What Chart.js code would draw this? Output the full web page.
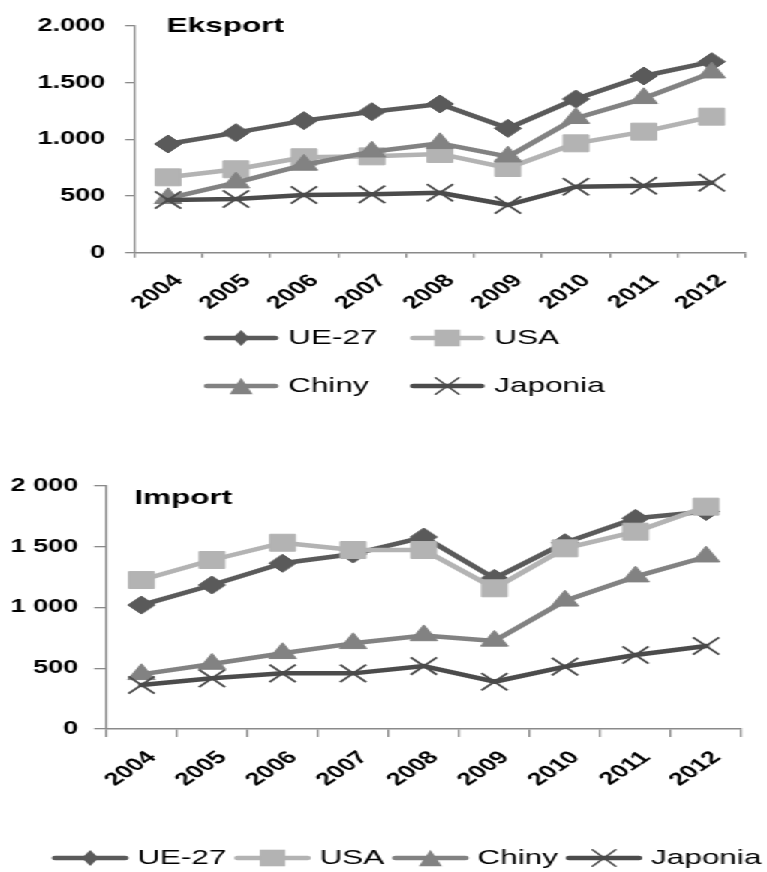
<!DOCTYPE html>
<html>
<head>
<meta charset="utf-8">
<script src="https://cdn.jsdelivr.net/npm/chart.js@4.4.1/dist/chart.umd.min.js"></script>
<style>
  html, body { margin: 0; padding: 0; background: #fff; width: 767px; height: 872px; overflow: hidden; }
  /* both panels are laid out on a 511px-wide stage and widened to the page width */
  #stage { position: absolute; left: 0; top: 0; width: 511px; height: 880px; transform: scaleX(1.50098); transform-origin: 0 0; }
  #eksport { position: absolute; left: 0; top: 0; }
  #import { position: absolute; left: 0; top: 400px; }
</style>
</head>
<body>
<div id="stage">
  <canvas id="eksport" width="511" height="415"></canvas>
  <canvas id="import" width="511" height="480"></canvas>
</div>
<script>
// ---- data ----
const years = ['2004', '2005', '2006', '2007', '2008', '2009', '2010', '2011', '2012'];
const seriesNames = ['UE-27', 'USA', 'Chiny', 'Japonia'];

const eksportUE      = [959, 1059, 1165, 1244, 1312, 1097, 1356, 1559, 1685];
const eksportUSA     = [665, 736, 842, 850, 871, 747, 965, 1068, 1200];
const eksportChiny   = [480, 618, 774, 891, 965, 847, 1186, 1362, 1588];
const eksportJaponia = [465, 474, 509, 515, 529, 421, 582, 591, 618];

const importUE      = [1020, 1185, 1364, 1440, 1580, 1240, 1533, 1734, 1790];
const importUSA     = [1226, 1391, 1533, 1473, 1473, 1158, 1487, 1624, 1830];
const importChiny   = [450, 535, 623, 705, 770, 725, 1055, 1254, 1418];
const importJaponia = [362, 417, 458, 458, 518, 389, 513, 609, 683];

const eksportTickLabels = ['0', '500', '1.000', '1.500', '2.000'];
const importTickLabels  = ['0', '500', '1 000', '1 500', '2 000'];

// ---- styling ----
const FONT = "'Liberation Sans', Arial, sans-serif";
const AXIS_GRAY = '#8a8a8a';

const seriesLook = [
  { color: '#5a5a5a', marker: 'rectRot',  radius: 9,    markerLine: 1,   order: 3, legendW: 5.5, legendH: 8 },
  { color: '#b3b3b3', marker: 'rect',     radius: 12,   markerLine: 1,   order: 2, legendW: 8.5, legendH: 8.3 },
  { color: '#828282', marker: 'triangle', radius: 10.5, markerLine: 1,   order: 1, legendW: 7.7, legendH: 8.3 },
  { color: '#4b4b4b', marker: 'crossRot', radius: 12.3, markerLine: 1.8, order: 0, legendW: 7.7, legendH: 8.3 }
];

function makeDatasets(seriesValues) {
  return seriesValues.map((data, i) => {
    const s = seriesLook[i];
    return {
      label: seriesNames[i],
      data: data,
      borderColor: s.color,
      backgroundColor: s.color,
      borderWidth: 4.5,
      borderJoinStyle: 'round',
      borderCapStyle: 'round',
      pointStyle: s.marker,
      pointRadius: s.radius,
      pointBorderWidth: s.markerLine,
      pointBackgroundColor: s.color,
      pointBorderColor: s.color,
      tension: 0,
      fill: false,
      order: s.order,
      clip: false
    };
  });
}

// small marker used in the legend keys
function drawLegendMarker(ctx, look, cx, cy) {
  const w = look.legendW, h = look.legendH;
  ctx.fillStyle = look.color;
  ctx.strokeStyle = look.color;
  ctx.beginPath();
  if (look.marker === 'rectRot') {
    ctx.moveTo(cx - w, cy); ctx.lineTo(cx, cy - h); ctx.lineTo(cx + w, cy); ctx.lineTo(cx, cy + h);
    ctx.closePath(); ctx.fill();
  } else if (look.marker === 'rect') {
    ctx.rect(cx - w, cy - h, 2 * w, 2 * h); ctx.fill();
  } else if (look.marker === 'triangle') {
    ctx.moveTo(cx, cy - h); ctx.lineTo(cx + w, cy + h); ctx.lineTo(cx - w, cy + h);
    ctx.closePath(); ctx.fill();
  } else {
    ctx.lineWidth = 1.5;
    ctx.moveTo(cx - w, cy - h); ctx.lineTo(cx + w, cy + h);
    ctx.moveTo(cx + w, cy - h); ctx.lineTo(cx - w, cy + h);
    ctx.stroke();
  }
}

// legend with a line-and-marker key for every series
const lineLegend = {
  id: 'lineLegend',
  afterDraw(chart, args, o) {
    const ctx = chart.ctx;
    ctx.save();
    ctx.font = o.font;
    ctx.textBaseline = 'middle';
    ctx.textAlign = 'left';
    o.rows.forEach((row, r) => {
      let x = o.startX;
      const y = o.rowY[r];
      row.forEach((idx, j) => {
        if (o.colX) x = o.colX[j];
        const look = seriesLook[idx];
        const label = chart.data.datasets[idx].label;
        ctx.strokeStyle = look.color;
        ctx.lineWidth = o.lineWidth;
        ctx.lineCap = 'round';
        ctx.beginPath();
        ctx.moveTo(x + 2, y);
        ctx.lineTo(x + o.lineLen - 2, y);
        ctx.stroke();
        drawLegendMarker(ctx, look, x + o.lineLen / 2, y);
        ctx.fillStyle = o.color;
        const tx = x + o.lineLen + o.textGap;
        ctx.fillText(label, tx, y);
        x = tx + ctx.measureText(label).width + o.itemGap;
      });
    });
    ctx.restore();
  }
};

// panel heading written inside the plot area
const panelTitle = {
  id: 'panelTitle',
  afterDraw(chart, args, o) {
    const { ctx, chartArea } = chart;
    ctx.save();
    ctx.font = o.font;
    ctx.fillStyle = o.color;
    ctx.textAlign = 'left';
    ctx.textBaseline = 'alphabetic';
    ctx.fillText(o.text, chartArea.left + o.dx, chartArea.top + o.dy);
    ctx.restore();
  }
};

function makeOptions(p) {
  return {
    responsive: false,
    animation: false,
    devicePixelRatio: 1,
    events: [],
    layout: { padding: p.padding },
    plugins: {
      legend: { display: false },
      tooltip: { enabled: false },
      panelTitle: p.title,
      lineLegend: p.legend
    },
    scales: {
      x: {
        type: 'category',
        offset: true,
        grid: { display: true, drawOnChartArea: false, drawTicks: true, offset: true,
                tickLength: p.xTick, color: AXIS_GRAY, lineWidth: 1.3 },
        border: { display: true, color: AXIS_GRAY, width: 1.5 },
        ticks: { autoSkip: false, minRotation: 45, maxRotation: 45, padding: p.xPad, labelOffset: 7,
                 color: '#000', font: { family: FONT, size: 18, weight: 'bold' } },
        afterFit(scale) { scale.height = p.xHeight; }
      },
      y: {
        min: 0,
        max: 2000,
        grid: { display: true, drawOnChartArea: false, drawTicks: true, tickLength: p.yTick,
                color: AXIS_GRAY, lineWidth: 1.3 },
        border: { display: true, color: AXIS_GRAY, width: 1.3 },
        ticks: { stepSize: 500, padding: p.yPad, color: '#000',
                 font: { family: FONT, size: 18, weight: 'bold' },
                 callback: (v) => p.tickLabels[Math.round(v / 500)] },
        afterFit(scale) { scale.width = p.yWidth; }
      }
    }
  };
}

new Chart(document.getElementById('eksport'), {
  type: 'line',
  data: { labels: years, datasets: makeDatasets([eksportUE, eksportUSA, eksportChiny, eksportJaponia]) },
  options: makeOptions({
    padding: { top: 26, left: 0, right: 1.7, bottom: 0 },
    tickLabels: eksportTickLabels,
    xTick: 5, xPad: 12.6, xHeight: 162.3,
    yTick: 6, yPad: 13.3, yWidth: 89.3,
    title: { text: 'Eksport', font: `bold 21px ${FONT}`, color: '#000', dx: 21.8, dy: 5.7 },
    legend: { rows: [[0, 1], [2, 3]], colX: [136, 273.3], rowY: [338, 386], startX: 136,
              lineLen: 49.3, textGap: 6.7, itemGap: 0, lineWidth: 4.5, font: `21px ${FONT}`, color: '#000' }
  }),
  plugins: [panelTitle, lineLegend]
});

new Chart(document.getElementById('import'), {
  type: 'line',
  data: { labels: years, datasets: makeDatasets([importUE, importUSA, importChiny, importJaponia]) },
  options: makeOptions({
    padding: { top: 86, left: 0, right: 17, bottom: 0 },
    tickLabels: importTickLabels,
    xTick: 8, xPad: 10, xHeight: 151,
    yTick: 8, yPad: 10.7, yWidth: 70.7,
    title: { text: 'Import', font: `bold 21px ${FONT}`, color: '#000', dx: 18.7, dy: 18 },
    legend: { rows: [[0, 1, 2, 3]], rowY: [458], startX: 34.7,
              lineLen: 50.7, textGap: 6, itemGap: 5.3, lineWidth: 4.5, font: `21px ${FONT}`, color: '#000' }
  }),
  plugins: [panelTitle, lineLegend]
});
</script>
</body>
</html>
